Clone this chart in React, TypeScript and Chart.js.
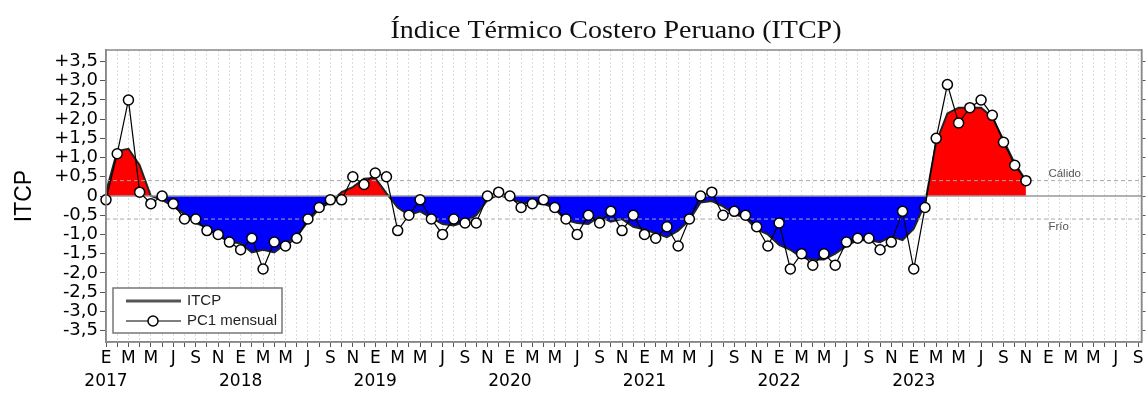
import React, { useEffect, useRef } from 'react';
import { Chart, registerables } from 'chart.js';

Chart.register(...registerables);

// Month axis: index 0 = enero 2017
const START_YEAR = 2017;
const LAST_LABELED_YEAR = 2023;
const MONTH_INITIALS = ['E', 'F', 'M', 'A', 'M', 'J', 'J', 'A', 'S', 'O', 'N', 'D'];

// PC1 mensual, enero 2017 – noviembre 2023
const pc1Mensual: number[] = [
  -0.1, 1.1, 2.5, 0.1, -0.2, 0.0, -0.2, -0.6, -0.6, -0.9, -1.0, -1.2,
  -1.4, -1.1, -1.9, -1.2, -1.3, -1.1, -0.6, -0.3, -0.1, -0.1, 0.5, 0.3,
  0.6, 0.5, -0.9, -0.5, -0.1, -0.6, -1.0, -0.6, -0.7, -0.7, 0.0, 0.1,
  0.0, -0.3, -0.2, -0.1, -0.3, -0.6, -1.0, -0.5, -0.7, -0.4, -0.9, -0.5,
  -1.0, -1.1, -0.8, -1.3, -0.6, 0.0, 0.1, -0.5, -0.4, -0.5, -0.8, -1.3,
  -0.7, -1.9, -1.5, -1.8, -1.5, -1.8, -1.2, -1.1, -1.1, -1.4, -1.2, -0.4,
  -1.9, -0.3, 1.5, 2.9, 1.9, 2.3, 2.5, 2.1, 1.4, 0.8, 0.4,
];

// ITCP (media móvil de 3 meses), enero 2017 – noviembre 2023
const itcp: number[] = [
  0.1, 1.17, 1.23, 0.8, 0.0, -0.1, -0.27, -0.47, -0.7, -0.83, -1.03, -1.2,
  -1.23, -1.47, -1.4, -1.47, -1.25, -1.05, -0.67, -0.33, -0.17, 0.1, 0.23, 0.45,
  0.47, 0.07, -0.3, -0.5, -0.4, -0.57, -0.73, -0.77, -0.67, -0.5, -0.1, 0.03,
  -0.07, -0.17, -0.2, -0.2, -0.33, -0.63, -0.7, -0.73, -0.53, -0.67, -0.6, -0.8,
  -0.87, -0.97, -1.07, -0.9, -0.63, -0.17, -0.13, -0.27, -0.47, -0.57, -0.87, -1.0,
  -1.27, -1.4, -1.6, -1.65, -1.65, -1.5, -1.3, -1.15, -1.15, -1.2, -1.05, -1.15,
  -0.85, -0.2, 1.4, 2.15, 2.3, 2.3, 2.3, 2.05, 1.45, 0.85, 0.4,
];

const UMBRAL_CALIDO = 0.4;
const UMBRAL_FRIO = -0.6;

const X_MIN = 0;
const X_MAX = 92.3;
const Y_MIN = -3.8;
const Y_MAX = 3.8;
const Y_STEP = 0.5;

const SANS = '"Liberation Sans", Arial, sans-serif';
const WIDE_SANS = '"DejaVu Sans", sans-serif';
const SERIF = '"Liberation Serif", "Times New Roman", serif';

const formatY = (v: number) => {
  if (Math.abs(v) < 1e-9) return '0';
  const s = Math.abs(v).toFixed(1).replace('.', ',');
  return (v > 0 ? '+' : '-') + s;
};

const formatX = (v: number) => {
  const i = Math.round(v);
  if (i % 2 !== 0) return '';
  const m = MONTH_INITIALS[((i % 12) + 12) % 12];
  const year = START_YEAR + Math.floor(i / 12);
  if (i % 12 === 0 && year <= LAST_LABELED_YEAR) return [m, String(year)];
  return m;
};

// Title, axis label, threshold names, legend and plot frame
const decorations = {
  id: 'itcpDecorations',
  afterDraw(chart: any) {
    const { ctx, chartArea: ca, scales } = chart;
    const x = scales.x;
    const y = scales.y;

    ctx.save();
    // frame
    ctx.strokeStyle = '#888';
    ctx.lineWidth = 1.5;
    ctx.strokeRect(ca.left, ca.top, ca.right - ca.left, ca.bottom - ca.top);

    // title
    ctx.save();
    ctx.translate(616, 31);
    ctx.scale(1.12, 1);
    ctx.font = `25px ${SERIF}`;
    ctx.fillStyle = '#111';
    ctx.textAlign = 'center';
    ctx.textBaseline = 'middle';
    ctx.fillText('Índice Térmico Costero Peruano (ITCP)', 0, 0);
    ctx.restore();

    // y-axis label
    ctx.save();
    ctx.translate(25, y.getPixelForValue(0));
    ctx.rotate(-Math.PI / 2);
    ctx.font = `23px ${SANS}`;
    ctx.fillStyle = '#000';
    ctx.textAlign = 'center';
    ctx.textBaseline = 'middle';
    ctx.fillText('ITCP', 0, 0);
    ctx.restore();

    // threshold names
    ctx.font = `11.5px ${SANS}`;
    ctx.fillStyle = '#555';
    ctx.textAlign = 'left';
    ctx.textBaseline = 'middle';
    ctx.fillText('Cálido', x.getPixelForValue(84), y.getPixelForValue(UMBRAL_CALIDO) - 7);
    ctx.fillText('Frío', x.getPixelForValue(84), y.getPixelForValue(UMBRAL_FRIO) + 8);

    // legend
    const bx = ca.left + 7;
    const by = ca.bottom - 54;
    const bw = 169;
    const bh = 45;
    ctx.fillStyle = '#fff';
    ctx.fillRect(bx, by, bw, bh);
    ctx.strokeStyle = '#777';
    ctx.lineWidth = 1.5;
    ctx.strokeRect(bx, by, bw, bh);

    ctx.strokeStyle = '#555';
    ctx.lineWidth = 3;
    ctx.beginPath();
    ctx.moveTo(bx + 13, by + 13);
    ctx.lineTo(bx + 68, by + 13);
    ctx.stroke();

    ctx.strokeStyle = '#000';
    ctx.lineWidth = 1.2;
    ctx.beginPath();
    ctx.moveTo(bx + 13, by + 33);
    ctx.lineTo(bx + 68, by + 33);
    ctx.stroke();
    ctx.beginPath();
    ctx.arc(bx + 40, by + 33, 5, 0, Math.PI * 2);
    ctx.fillStyle = '#fff';
    ctx.fill();
    ctx.lineWidth = 1.5;
    ctx.stroke();

    ctx.font = `15px ${SANS}`;
    ctx.fillStyle = '#222';
    ctx.textAlign = 'left';
    ctx.textBaseline = 'middle';
    ctx.fillText('ITCP', bx + 74, by + 13);
    ctx.fillText('PC1 mensual', bx + 74, by + 33);

    ctx.restore();
  },
};

const hLine = (v: number) => [
  { x: X_MIN, y: v },
  { x: X_MAX, y: v },
];

export default function App() {
  const canvasRef = useRef<HTMLCanvasElement | null>(null);

  useEffect(() => {
    const canvas = canvasRef.current;
    if (!canvas) return;

    const chart = new Chart(canvas, {
      type: 'line',
      data: {
        datasets: [
          {
            label: 'PC1 mensual',
            data: pc1Mensual.map((v, i) => ({ x: i, y: v })),
            borderColor: '#000',
            borderWidth: 1.2,
            pointRadius: 5,
            pointBackgroundColor: '#fff',
            pointBorderColor: '#000',
            pointBorderWidth: 1.5,
            fill: false,
            clip: false as any,
            order: 0,
          },
          {
            label: 'cero',
            data: hLine(0),
            borderColor: '#999',
            borderWidth: 1.5,
            pointRadius: 0,
            fill: false,
            order: 1,
          },
          {
            label: 'Cálido',
            data: hLine(UMBRAL_CALIDO),
            borderColor: '#aaa',
            borderWidth: 1,
            borderDash: [4, 3],
            pointRadius: 0,
            fill: false,
            order: 1,
          },
          {
            label: 'Frío',
            data: hLine(UMBRAL_FRIO),
            borderColor: '#aaa',
            borderWidth: 1,
            borderDash: [4, 3],
            pointRadius: 0,
            fill: false,
            order: 1,
          },
          {
            label: 'ITCP',
            data: itcp.map((v, i) => ({ x: i, y: v })),
            borderColor: '#222',
            borderWidth: 2,
            pointRadius: 0,
            fill: { target: 'origin', above: '#ff0000', below: '#0000ff' },
            order: 2,
          },
        ],
      },
      options: {
        responsive: false,
        animation: false,
        events: [],
        layout: { padding: { top: 50, left: 0, right: 0, bottom: 0 } },
        plugins: {
          legend: { display: false },
          title: { display: false },
          tooltip: { enabled: false },
        },
        scales: {
          x: {
            type: 'linear',
            position: 'bottom',
            min: X_MIN,
            max: X_MAX,
            afterFit: (s: any) => {
              s.height = 52;
            },
            ticks: {
              stepSize: 1,
              autoSkip: false,
              includeBounds: false,
              maxRotation: 0,
              minRotation: 0,
              padding: 1,
              color: '#000',
              font: { family: WIDE_SANS, size: 17, lineHeight: 1.3 },
              callback: (v: any) => formatX(Number(v)),
            },
            grid: {
              color: '#dcdcdc',
              lineWidth: 1,
              drawTicks: true,
              tickLength: 5,
              tickColor: '#555',
              tickWidth: 1,
            },
            border: { display: true, color: '#888', width: 1.5, dash: [2, 2] },
          },
          y: {
            type: 'linear',
            position: 'left',
            min: Y_MIN,
            max: Y_MAX,
            afterFit: (s: any) => {
              s.width = 106;
            },
            ticks: {
              stepSize: Y_STEP,
              autoSkip: false,
              includeBounds: false,
              padding: 2,
              color: '#000',
              font: { family: WIDE_SANS, size: 18, lineHeight: 1.0 },
              callback: (v: any) => formatY(Number(v)),
            },
            grid: {
              drawOnChartArea: false,
              drawTicks: true,
              tickLength: 6,
              tickColor: '#555',
              tickWidth: 1,
            },
            border: { display: true, color: '#888', width: 1.5 },
          },
          yR: {
            type: 'linear',
            position: 'right',
            min: Y_MIN,
            max: Y_MAX,
            afterFit: (s: any) => {
              s.width = 5;
            },
            ticks: { stepSize: Y_STEP, autoSkip: false, includeBounds: false, display: false },
            grid: {
              drawOnChartArea: false,
              drawTicks: true,
              tickLength: 4,
              tickColor: '#555',
              tickWidth: 1,
            },
            border: { display: true, color: '#888', width: 1.5 },
          },
        },
      } as any,
      plugins: [decorations],
    });

    return () => {
      chart.destroy();
    };
  }, []);

  return (
    <canvas
      ref={canvasRef}
      width={1148}
      height={394}
      style={{ position: 'absolute', left: 0, top: 0, width: 1148, height: 394, display: 'block' }}
    />
  );
}
